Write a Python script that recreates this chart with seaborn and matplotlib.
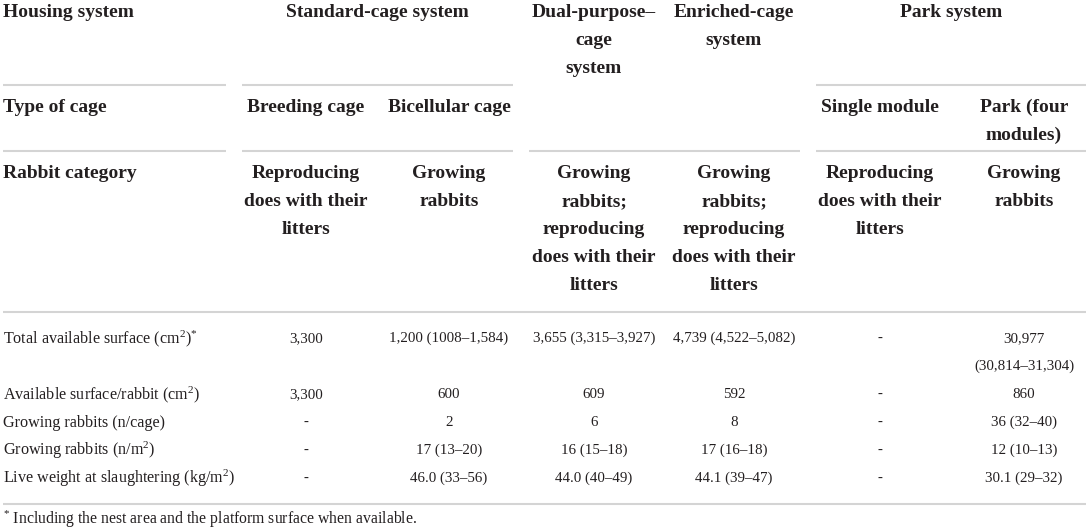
import matplotlib
matplotlib.use("Agg")
import matplotlib.pyplot as plt
import seaborn as sns
import pandas as pd

# table content
housing_systems = ["Standard-cage system", "Dual-purpose–\ncage\nsystem",
                   "Enriched-cage\nsystem", "Park system"]
cage_types = ["Breeding cage", "Bicellular cage", "", "", "Single module", "Park (four\nmodules)"]
rabbit_categories = ["Reproducing\ndoes with their\nlitters", "Growing\nrabbits",
                     "Growing\nrabbits;\nreproducing\ndoes with their\nlitters",
                     "Growing\nrabbits;\nreproducing\ndoes with their\nlitters",
                     "Reproducing\ndoes with their\nlitters", "Growing\nrabbits"]
row_labels = ["Total available surface (cm$^{2}$)$^{*}$", "Available surface/rabbit (cm$^{2}$)",
              "Growing rabbits (n/cage)", "Growing rabbits (n/m$^{2}$)",
              "Live weight at slaughtering (kg/m$^{2}$)"]
total_surface = ["3,300", "1,200 (1008–1,584)", "3,655 (3,315–3,927)",
                 "4,739 (4,522–5,082)", "-", "30,977\n(30,814–31,304)"]
surface_per_rabbit = ["3,300", "600", "609", "592", "-", "860"]
rabbits_per_cage = ["-", "2", "6", "8", "-", "36 (32–40)"]
rabbits_per_m2 = ["-", "17 (13–20)", "16 (15–18)", "17 (16–18)", "-", "12 (10–13)"]
live_weight = ["-", "46.0 (33–56)", "44.0 (40–49)", "44.1 (39–47)", "-", "30.1 (29–32)"]
footnote = "$^{*}$ Including the nest area and the platform surface when available."

df = pd.DataFrame([total_surface, surface_per_rabbit, rabbits_per_cage,
                   rabbits_per_m2, live_weight], index=row_labels)

sns.set_theme(style="white")
plt.rcParams['font.family'] = ['Liberation Serif', 'DejaVu Serif']
plt.rcParams['mathtext.fontset'] = 'custom'
plt.rcParams['mathtext.rm'] = 'Liberation Serif'
plt.rcParams['mathtext.it'] = 'Liberation Serif'
plt.rcParams['mathtext.default'] = 'rm'

INK = '#231f20'
RULE = '#d4d4d4'
LH = 28  # line height in px
col_x = [306, 449, 594, 734, 880, 1024]
group_x = [377, 594, 734, 951]
# (left, right) of each rule segment
seg = [(3, 226), (242, 513), (529, 800), (816, 1086)]


def put(ax, x, y, s, ha='center', **kw):
    for i, line in enumerate(s.split('\n')):
        ax.text(x, y + i * LH, line, ha=ha, va='baseline', color=INK, **kw)


fig = plt.figure(figsize=(10.89, 5.32), dpi=100)
ax = fig.add_axes([0, 0, 1, 1])
ax.set_xlim(0, 1089)
ax.set_ylim(532, 0)
ax.axis('off')

hdr = dict(fontsize=14, fontweight='bold')
body = dict(fontsize=10.8)

# header rows
put(ax, 3, 17, "Housing system", ha='left', **hdr)
put(ax, 3, 112, "Type of cage", ha='left', **hdr)
put(ax, 3, 178, "Rabbit category", ha='left', **hdr)
for x, s in zip(group_x, housing_systems):
    put(ax, x, 17, s, **hdr)
for x, s in zip(col_x, cage_types):
    if s:
        put(ax, x, 112, s, **hdr)
for x, s in zip(col_x, rabbit_categories):
    put(ax, x, 178, s, **hdr)

# rules
for a, b in [seg[0], seg[1], seg[3]]:
    ax.plot([a, b], [85, 85], color=RULE, lw=1.5, solid_capstyle='butt')
for a, b in seg:
    ax.plot([a, b], [151, 151], color=RULE, lw=1.5, solid_capstyle='butt')
ax.plot([3, 1086], [312, 312], color=RULE, lw=1.5, solid_capstyle='butt')
ax.plot([3, 1086], [504, 504], color=RULE, lw=1.5, solid_capstyle='butt')

# body rows
row_y = [342, 398, 426, 454, 482]
for y, (label, vals) in zip(row_y, df.iterrows()):
    put(ax, 3, y + 1, label, ha='left', fontsize=11.6)
    for x, v in zip(col_x, vals):
        put(ax, x, y, v, **body)

put(ax, 3, 524, footnote, ha='left', fontsize=11.3)

fig.savefig("out.png", dpi=100)
